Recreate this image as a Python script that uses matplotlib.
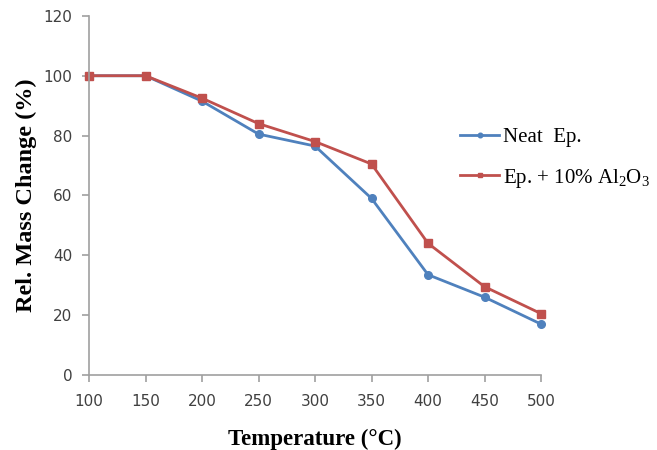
import matplotlib.pyplot as plt

# data
temps = [100, 150, 200, 250, 300, 350, 400, 450, 500]
neat = [100, 100, 91.5, 80.5, 76.5, 59, 33.5, 26, 17]
al2o3 = [100, 100, 92.5, 84, 78, 70.5, 44, 29.5, 20.5]
labels = ['Neat  Ep.', 'Ep. + 10% Al$_2$O$_3$']

plt.rcParams['mathtext.fontset'] = 'custom'
plt.rcParams['mathtext.rm'] = 'Liberation Serif'
plt.rcParams['mathtext.it'] = 'Liberation Serif'
plt.rcParams['mathtext.default'] = 'rm'

# draw
fig = plt.figure(figsize=(6.57, 4.5), dpi=100)
ax = fig.add_axes([0.1355, 0.1667, 0.688, 0.798])
ax.plot(temps, neat, color='#4F81BD', lw=2, marker='o', ms=5.5, label=labels[0])
ax.plot(temps, al2o3, color='#C0504D', lw=2, marker='s', ms=6, label=labels[1])

ax.set_xlim(100, 500)
ax.set_ylim(0, 120)
ax.set_xticks(temps)
ax.set_yticks(range(0, 121, 20))
for s in ['top', 'right']:
    ax.spines[s].set_visible(False)
for s in ['left', 'bottom']:
    ax.spines[s].set_color('#A0A0A0')
    ax.spines[s].set_linewidth(1.2)
ax.tick_params(direction='out', color='#A0A0A0', labelcolor='#404040',
               labelsize=11, length=5, width=1.2)
ax.tick_params(axis='x', pad=9)
ax.tick_params(axis='y', pad=7)
for t in ax.get_xticklabels() + ax.get_yticklabels():
    t.set_fontfamily('DejaVu Sans')

ax.set_xlabel('Temperature (°C)', fontfamily='Liberation Serif',
              fontweight='bold', fontsize=16.5, labelpad=14)
ax.set_ylabel('Rel. Mass Change (%)', fontfamily='Liberation Serif',
              fontweight='bold', fontsize=17.5, labelpad=5)
for ln in ax.lines:
    ln.set_clip_on(False)

fig.legend(loc='center left', bbox_to_anchor=(0.700, 0.648), frameon=False,
           prop={'family': 'Liberation Serif', 'size': 15}, handlelength=1.9,
           handletextpad=0.15, labelspacing=0.95, markerscale=0.6,
           borderpad=0, borderaxespad=0)

fig.savefig('out.png', dpi=100)
